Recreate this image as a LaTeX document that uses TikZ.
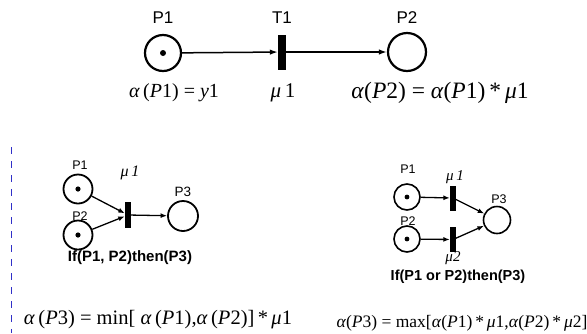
\documentclass[tikz,border=0pt]{standalone}
\usepackage{fontspec}
\setmainfont{Liberation Serif}
\setsansfont{Liberation Sans}
\usetikzlibrary{arrows.meta}
\definecolor{dashblue}{RGB}{48,48,200}
\begin{document}
\begin{tikzpicture}[x=1pt,y=-1pt,
  place/.style={circle,draw,line width=#1,inner sep=0pt},
  bar/.style={rectangle,fill=black,inner sep=0pt},
  arc/.style={line width=1.5pt,-{Latex[length=8pt,width=5.5pt]}},
  arcs/.style={line width=1.3pt,-{Latex[length=6.5pt,width=5pt]}},
  lab/.style={font=\sffamily\fontsize{17}{17}\selectfont,inner sep=0pt},
  slab/.style={font=\sffamily\fontsize{12.5}{12.5}\selectfont,inner sep=0pt},
  captext/.style={font=\sffamily\bfseries\fontsize{15}{15}\selectfont,inner sep=0pt},
  fml/.style={font=\fontsize{20}{20}\selectfont,inner sep=0pt},
  mu/.style={font=\itshape\fontsize{15}{15}\selectfont,inner sep=0pt}
]
\useasboundingbox (0,0) rectangle (587,333);
% ---------- top net ----------
\node[place=2.2pt,minimum size=36pt] (tp1) at (163,53) {};
\node[bar,minimum width=8pt,minimum height=35pt] (tt1) at (282,52) {};
\node[place=2.2pt,minimum size=38pt] (tp2) at (407,52) {};
\fill (tp1.center) circle (3pt);
\draw[arc] (tp1) -- (tt1);
\draw[arc] (tt1.center) -- (tp2);
\node[lab] (ltp1) at (163,18) {P1};
\node[lab] (ltt1) at (282,18) {T1};
\node[lab] (ltp2) at (407,18) {P2};
\node[fml] (ftp1) at (174,93) {\textit{α}\,(\textit{P}1) = \textit{y}1};
\node[fml,font=\fontsize{21}{21}\selectfont] (ftt1) at (283,93) {\textit{μ}\,1};
\node[fml,font=\fontsize{23.5}{23.5}\selectfont] (ftp2) at (440,93) {\textit{α}(\textit{P}2) = \textit{α}(\textit{P}1)\,*\,\textit{μ}1};
% ---------- dashed separator ----------
\coordinate (dtop) at (11.5,147);
\coordinate (dbot) at (11.5,333);
\draw[dashblue,line width=1pt,dash pattern=on 7pt off 7pt] (dtop) -- (dbot);
% ---------- bottom left net ----------
\node[place=1.8pt,minimum size=29pt] (lp1) at (78,189) {};
\node[place=1.8pt,minimum size=29pt] (lp2) at (78,235) {};
\node[bar,minimum width=6pt,minimum height=26pt] (lt) at (128,215) {};
\node[place=1.8pt,minimum size=30pt] (lp3) at (183,216) {};
\fill (lp1.center) circle (2.6pt);
\fill (lp2.center) circle (2.6pt);
\draw[arcs] (lp1) -- (lt);
\draw[arcs] (lp2) -- (lt);
\draw[arcs] (lt.center) -- (lp3);
\node[slab] (llp1) at (80,165) {P1};
\node[slab] (llp2) at (80,216) {P2};
\node[slab,font=\sffamily\fontsize{13.5}{13.5}\selectfont] (llp3) at (183,192) {P3};
\node[mu,font=\itshape\fontsize{16}{16}\selectfont] (llt) at (130,173) {μ\,1};
\node[captext] (lcap) at (130,258) {If(P1, P2)then(P3)};
\node[fml,font=\fontsize{20.5}{20.5}\selectfont] (lf) at (158,320) {\textit{α}\,(\textit{P}3) = min[ \textit{α}\,(\textit{P}1),\textit{α}\,(\textit{P}2)]\,*\,\textit{μ}1};
% ---------- bottom right net ----------
\node[place=1.6pt,minimum size=26pt] (rp1) at (407,197) {};
\node[place=1.6pt,minimum size=26pt] (rp2) at (407,239) {};
\node[bar,minimum width=6pt,minimum height=25pt] (rt1) at (453,198) {};
\node[bar,minimum width=6pt,minimum height=25pt] (rt2) at (453,239.5) {};
\node[place=1.6pt,minimum size=27pt] (rp3) at (497,220) {};
\fill (rp1.center) circle (2.4pt);
\fill (rp2.center) circle (2.4pt);
\draw[arcs] (rp1) -- (rt1);
\draw[arcs] (rp2) -- (rt2);
\draw[arcs] (rt1.center) -- (rp3);
\draw[arcs] (rt2.center) -- (rp3);
\node[slab] (lrp1) at (408,169) {P1};
\node[slab] (lrp2) at (408,221) {P2};
\node[slab] (lrp3) at (499,199) {P3};
\node[mu] (lrt1) at (455,177) {μ\,1};
\node[mu] (lrt2) at (453,258) {μ2};
\node[captext,font=\sffamily\bfseries\fontsize{14.5}{14.5}\selectfont] (rcap) at (458,277) {If(P1 or P2)then(P3)};
\node[fml,font=\fontsize{17.5}{17.5}\selectfont] (rf) at (462,323) {\textit{α}(\textit{P}3) = max[\textit{α}(\textit{P}1)\,*\,\textit{μ}1,\textit{α}(\textit{P}2)\,*\,\textit{μ}2]};
\end{tikzpicture}
\end{document}
